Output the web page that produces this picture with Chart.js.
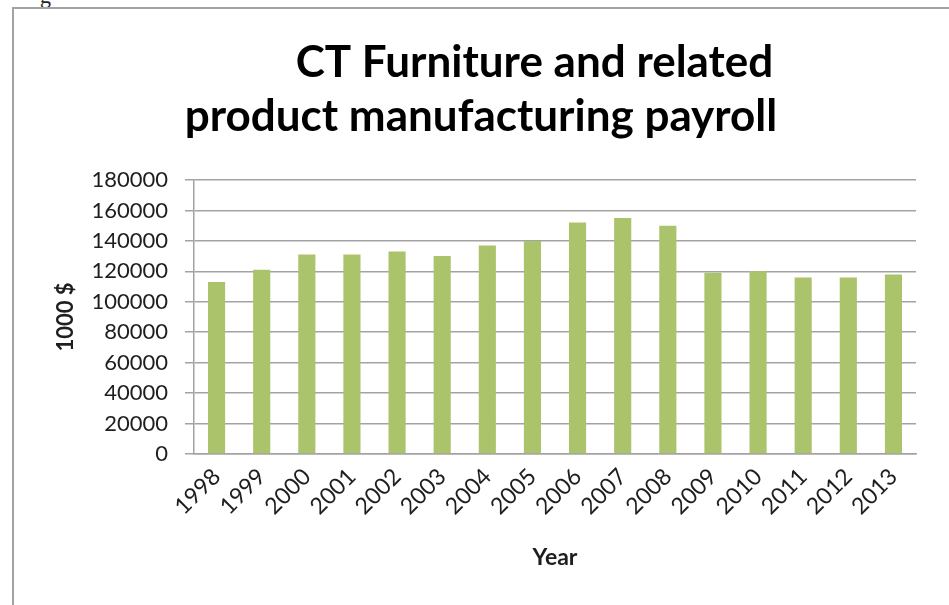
<!DOCTYPE html>
<html>
<head>
<meta charset="utf-8">
<script src="https://cdn.jsdelivr.net/npm/chart.js@4.4.1/dist/chart.umd.min.js"></script>
<style>
  html, body { margin: 0; padding: 0; background: #fff; }
  body { width: 949px; height: 605px; position: relative; overflow: hidden; }
  .frame {
    position: absolute; left: 12px; top: 7px; width: 960px; height: 620px;
    border-left: 2px solid #a3a3a3; border-top: 2px solid #a3a3a3;
  }
  .cut { position: absolute; left: 40px; top: -17px; font: 22px "Liberation Serif", serif; color: #222; }
  #chart { position: absolute; left: 0; top: 0; }
</style>
</head>
<body>
<div class="cut">g</div>
<div class="frame"></div>
<canvas id="chart" width="949" height="605"></canvas>
<script>
const years = ["1998", "1999", "2000", "2001", "2002", "2003", "2004", "2005",
  "2006", "2007", "2008", "2009", "2010", "2011", "2012", "2013"]
const payroll = [113000, 121000, 131000, 131000, 133000, 130000, 137000, 140000,
  152000, 155000, 150000, 119000, 120000, 116000, 116000, 118000]
const titleLines = ["          CT Furniture and related", "product manufacturing payroll"]
const yTitle = "1000 $"
const xTitle = "Year"

const font = "Lato"
const gridColor = "#a3a3a3"
const textColor = "#1e1e1e"

const canvas = document.getElementById("chart")

new Chart(canvas, {
  type: "bar",
  data: {
    labels: years,
    datasets: [
      {
        data: payroll,
        backgroundColor: "#abc46c",
        borderWidth: 0,
        barPercentage: 0.38,
        categoryPercentage: 1,
      },
    ],
  },
  options: {
    responsive: false,
    animation: false,
    layout: { padding: { left: 46, right: 33, top: 0, bottom: 0 } },
    scales: {
      x: {
        grid: { display: false, drawTicks: false },
        border: { color: gridColor, width: 1.5 },
        ticks: { color: textColor, font: { family: font, size: 23 }, minRotation: 45, maxRotation: 45, padding: 9 },
        title: { display: true, text: xTitle, color: textColor, font: { family: font, size: 23, weight: "bold" }, padding: { top: 0, bottom: 34 } },
        afterFit: scale => { scale.height = 151 },
      },
      y: {
        min: 0,
        max: 180000,
        grid: { color: gridColor, lineWidth: 1.5, tickLength: 9 },
        border: { color: gridColor, width: 1.5 },
        ticks: { stepSize: 20000, color: textColor, font: { family: font, size: 22 }, padding: 17, callback: v => String(v) },
        title: { display: true, text: yTitle, color: textColor, font: { family: font, size: 22, weight: "bold" }, padding: { top: 7, bottom: 0 } },
        afterFit: scale => { scale.width = 148 },
      },
    },
    plugins: {
      legend: { display: false },
      tooltip: { enabled: false },
      title: {
        display: true,
        text: titleLines,
        color: "#000",
        font: { family: font, size: 44, weight: "bold", lineHeight: "54px" },
        padding: { top: 36, bottom: 36 },
      },
    },
  },
})
</script>
</body>
</html>
